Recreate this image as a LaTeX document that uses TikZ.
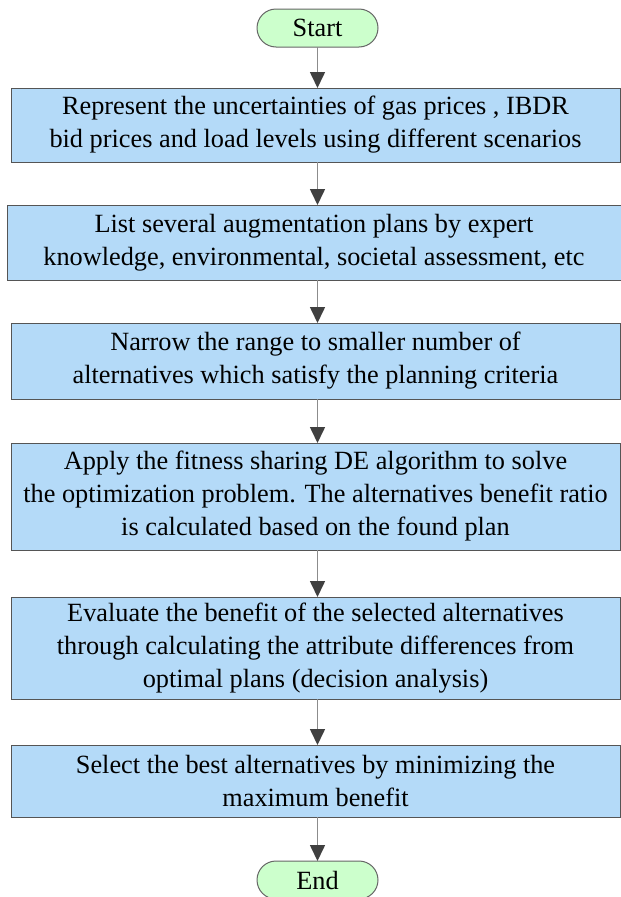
\documentclass[tikz,border=0pt]{standalone}
\usepackage{fontspec}
\setmainfont{Liberation Serif}
\usetikzlibrary{arrows.meta}
\definecolor{boxfill}{HTML}{B4DAF8}
\definecolor{boxline}{HTML}{555555}
\definecolor{termfill}{HTML}{CCFFCC}
\definecolor{termline}{HTML}{666666}
\definecolor{arrline}{HTML}{8C8C8C}
\definecolor{arrtip}{HTML}{404040}
\begin{document}
\begin{tikzpicture}[x=1pt,y=-1pt,
  every node/.style={font=\fontsize{26.3}{33}\selectfont, inner sep=0pt, outer sep=0pt},
  procbox/.style={draw=boxline, line width=1pt, fill=boxfill, align=center, minimum width=609pt},
  termbox/.style={draw=termline, line width=1pt, fill=termfill, rounded corners=19pt, minimum width=121pt, minimum height=38pt},
  flow/.style={draw=arrline, line width=1.6pt, -{Triangle[length=16pt,width=15pt,color=arrtip]}}
]
\useasboundingbox (0,0) rectangle (621,897);
\node[termbox] (start) at (317.5,28) {Start};
\node[procbox, minimum height=74pt] (b1) at (315.5,125) {Represent the uncertainties of gas prices , IBDR\\bid prices and load levels using different scenarios};
\node[procbox, minimum height=75pt, minimum width=614pt] (b2) at (314,242.5) {List several augmentation plans by expert\\knowledge, environmental, societal assessment, etc};
\node[procbox, minimum height=76pt] (b3) at (315.5,361) {Narrow the range to smaller number of\\alternatives which satisfy the planning criteria};
\node[procbox, minimum height=107pt] (b4) at (315.5,496.5) {Apply the fitness sharing DE algorithm to solve\\the optimization problem. The alternatives benefit ratio\\is calculated based on the found plan};
\node[procbox, minimum height=102pt] (b5) at (315.5,648) {Evaluate the benefit of the selected alternatives\\through calculating the attribute differences from\\optimal plans (decision analysis)};
\node[procbox, minimum height=72pt] (b6) at (315.5,781) {Select the best alternatives by minimizing the\\maximum benefit};
\node[termbox] (end) at (317.5,880) {End};
\draw[flow] (start.south) -- (start.south |- b1.north);
\draw[flow] (start.south |- b1.south) -- (start.south |- b2.north);
\draw[flow] (start.south |- b2.south) -- (start.south |- b3.north);
\draw[flow] (start.south |- b3.south) -- (start.south |- b4.north);
\draw[flow] (start.south |- b4.south) -- (start.south |- b5.north);
\draw[flow] (start.south |- b5.south) -- (start.south |- b6.north);
\draw[flow] (start.south |- b6.south) -- (end.north);
\end{tikzpicture}
\end{document}
